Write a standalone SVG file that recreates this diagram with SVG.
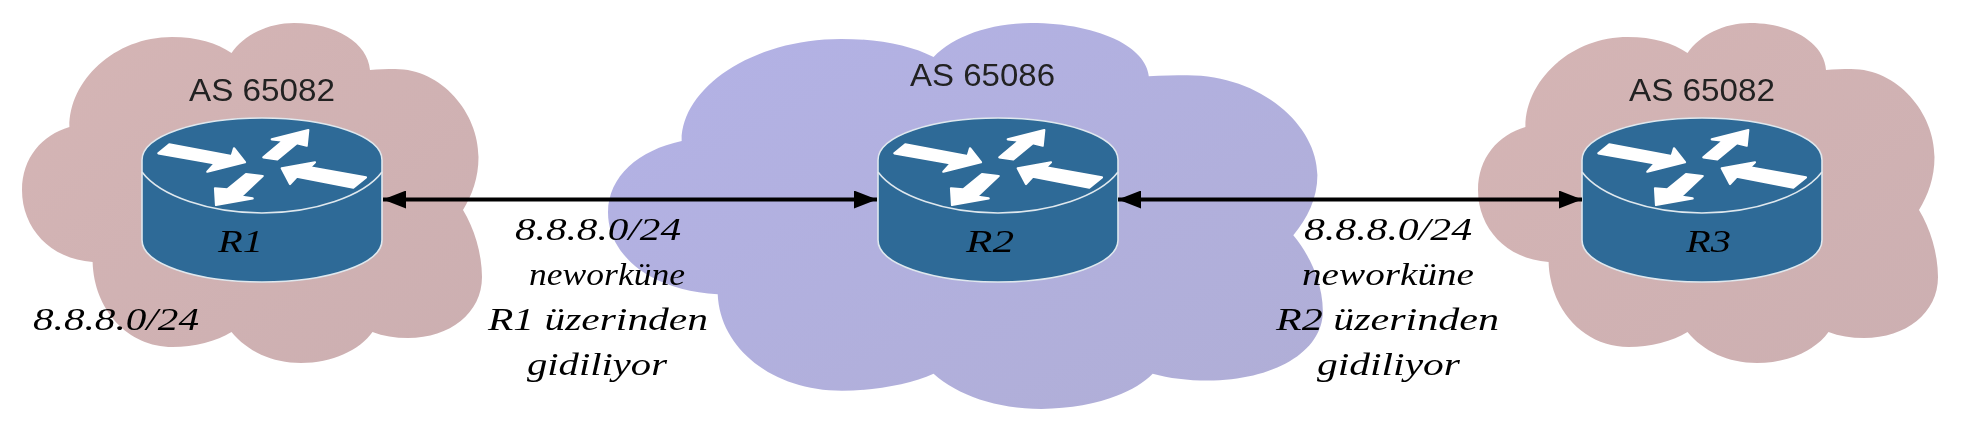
<svg xmlns="http://www.w3.org/2000/svg" xmlns:xlink="http://www.w3.org/1999/xlink" width="1966" height="426" viewBox="0 0 1966 426">
<style>
.as{font-family:"Liberation Sans",Arial,sans-serif;font-size:31px;fill:#222}
.hw{font-family:"Liberation Serif","Times New Roman",serif;font-style:italic;font-size:31px;fill:#000}
.conn{stroke:#000;stroke-width:4;fill:none;marker-start:url(#arrowS);marker-end:url(#arrowE)}
.body{fill:#2e6a97;stroke:#dfe8ee;stroke-width:1.6}
.rim{fill:none;stroke:#dfe8ee;stroke-width:1.6}
.wa{fill:#fff;stroke:#fff;stroke-width:2.2;stroke-linejoin:round}
</style>
<defs>
<filter id="soft" x="0" y="0" width="1966" height="426" filterUnits="userSpaceOnUse"><feGaussianBlur stdDeviation="0.7"/></filter>
<linearGradient id="pink" x1="0" y1="0" x2="1" y2="1"><stop offset="0" stop-color="#d5b5b5"/><stop offset="1" stop-color="#ccafb1"/></linearGradient>
<linearGradient id="blue" x1="0" y1="0" x2="1" y2="1"><stop offset="0" stop-color="#b3b2e6"/><stop offset="1" stop-color="#b0aed6"/></linearGradient>
<marker id="arrowE" markerUnits="userSpaceOnUse" markerWidth="24" markerHeight="18" refX="23" refY="9" orient="auto"><path d="M0 0L23 9L0 18Z" fill="#000"/></marker>
<marker id="arrowS" markerUnits="userSpaceOnUse" markerWidth="24" markerHeight="18" refX="0" refY="9" orient="auto"><path d="M23 0L0 9L23 18Z" fill="#000"/></marker>
<path id="cloudShape" d="M47.4 104C47 58 92 14 150 14C175 14 195 20 209.5 30C222 12 246 0 272 0C314 0 346 20 348 47C356 46 365 46 373 46C420 46 456.5 90 456.5 134C456.5 155 450 172 441 187C452 205 460 230 460 254C460 290 428 315 386 315C373 315 361 313 350.5 309C338 327 310 340 279 340C250 340 225 328 209.5 309C195 318 172 324 150.6 324C106 324 72 287 70.6 239C28 236 0 205 0 167C0 135 20 112 47.4 104Z"/>
<g id="routerIcon">
<path class="body" d="M0 42C0 18 54 0 120 0C186 0 240 18 240 42L240 122C240 146 186 164 120 164C54 164 0 146 0 122Z"/>
<path class="rim" d="M0 54C18 78 68 95 120 95C172 95 222 78 240 54"/>
<polygon class="wa" points="16.3,35.3 27.3,26.3 89.7,38 92,30.3 103,44.3 65.3,53.7 73,45.3"/>
<polygon class="wa" points="121.3,39.3 135.3,41.3 154.7,25.3 164.7,27.7 166.3,12 129.7,21.3 141.3,22.7"/>
<polygon class="wa" points="139.7,50.3 173,44.3 168,49.3 224,59.3 211.3,69.7 154.7,58.7 148,66"/>
<polygon class="wa" points="74,87 73,70.3 85.3,71.3 104,56 120.7,58 98.7,78.7 110.7,80.3"/>
</g>
</defs>

<g filter="url(#soft)">
<g id="as-left"><use xlink:href="#cloudShape" href="#cloudShape" transform="translate(22 23)" fill="url(#pink)"/></g>
<g id="as-middle"><use xlink:href="#cloudShape" href="#cloudShape" transform="translate(608 23) scale(1.554 1.135)" fill="url(#blue)"/></g>
<g id="as-right"><use xlink:href="#cloudShape" href="#cloudShape" transform="translate(1478 23)" fill="url(#pink)"/></g>

<g id="r1"><use xlink:href="#routerIcon" href="#routerIcon" x="142" y="118"/><text class="hw" x="218" y="252" textLength="45" lengthAdjust="spacingAndGlyphs">R1</text></g>
<g id="r2"><use xlink:href="#routerIcon" href="#routerIcon" x="878" y="118"/><text class="hw" x="966" y="252" textLength="48" lengthAdjust="spacingAndGlyphs">R2</text></g>
<g id="r3"><use xlink:href="#routerIcon" href="#routerIcon" x="1582" y="118"/><text class="hw" x="1686" y="252" textLength="45" lengthAdjust="spacingAndGlyphs">R3</text></g>

<g id="connectors">
<line class="conn" x1="383" y1="199.5" x2="877" y2="199.5"/>
<line class="conn" x1="1118" y1="199.5" x2="1582" y2="199.5"/>
</g>

<g id="labels">
<text class="as" x="189" y="101" textLength="146" lengthAdjust="spacingAndGlyphs">AS 65082</text>
<text class="as" x="910" y="86" textLength="145" lengthAdjust="spacingAndGlyphs">AS 65086</text>
<text class="as" x="1629" y="101" textLength="146" lengthAdjust="spacingAndGlyphs">AS 65082</text>
<text class="hw" x="33" y="330" textLength="166" lengthAdjust="spacingAndGlyphs">8.8.8.0/24</text>
<text class="hw" x="515" y="240" textLength="166" lengthAdjust="spacingAndGlyphs">8.8.8.0/24</text>
<text class="hw" x="529" y="285" textLength="156" lengthAdjust="spacingAndGlyphs">neworküne</text>
<text class="hw" x="488" y="330" textLength="220" lengthAdjust="spacingAndGlyphs">R1 üzerinden</text>
<text class="hw" x="527" y="375" textLength="140" lengthAdjust="spacingAndGlyphs">gidiliyor</text>
<text class="hw" x="1304" y="240" textLength="168" lengthAdjust="spacingAndGlyphs">8.8.8.0/24</text>
<text class="hw" x="1302" y="285" textLength="172" lengthAdjust="spacingAndGlyphs">neworküne</text>
<text class="hw" x="1276" y="330" textLength="223" lengthAdjust="spacingAndGlyphs">R2 üzerinden</text>
<text class="hw" x="1317" y="375" textLength="143" lengthAdjust="spacingAndGlyphs">gidiliyor</text>
</g>
</g>
</svg>
